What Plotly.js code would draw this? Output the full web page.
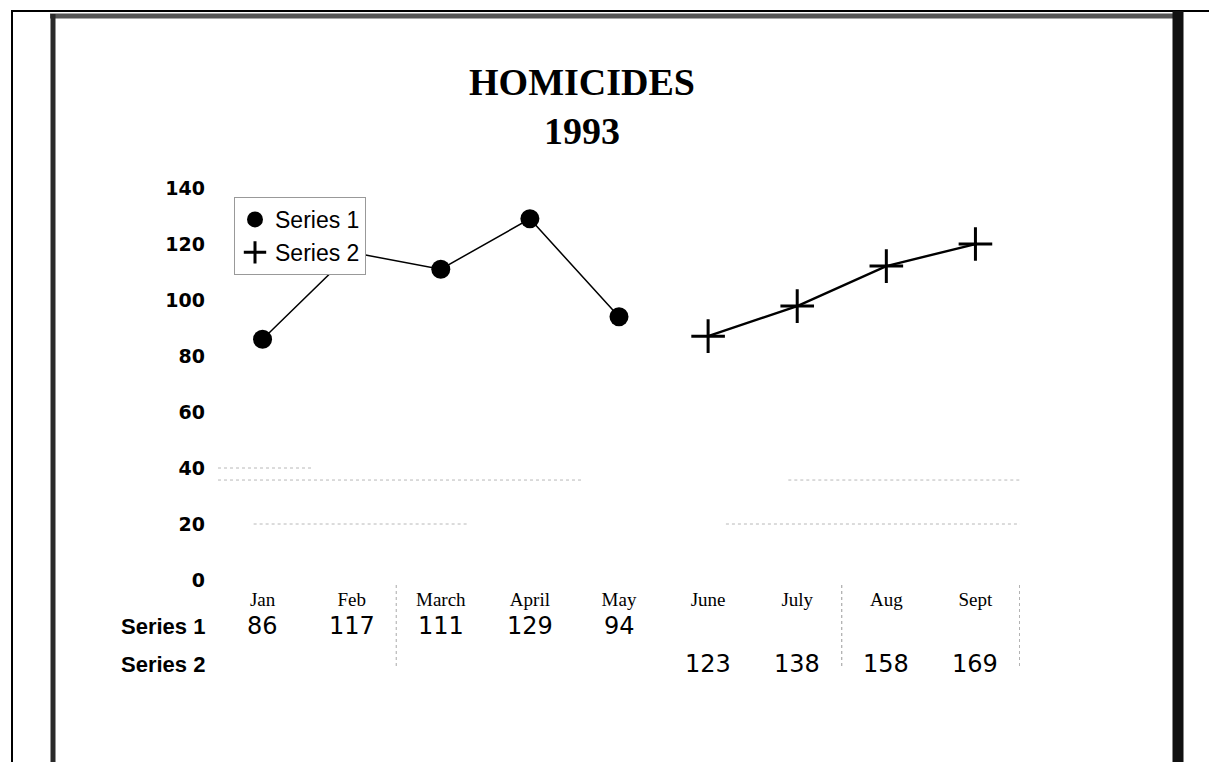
<!DOCTYPE html>
<html>
<head>
<meta charset="utf-8">
<script src="https://cdn.plot.ly/plotly-3.0.1.min.js"></script>
<style>
html,body{margin:0;padding:0;background:#fff;}
#chart{width:1209px;height:762px;}
</style>
</head>
<body>
<div id="chart"></div>
<script>
// ---- data ----
const months = ["Jan", "Feb", "March", "April", "May", "June", "July", "Aug", "Sept"];
const series1Months = ["Jan", "Feb", "March", "April", "May"];
const series1Values = [86, 117, 111, 129, 94];
const series2Months = ["June", "July", "Aug", "Sept"];
const series2Values = [123, 138, 158, 169];
const seriesNames = ["Series 1", "Series 2"];
const yTicks = [0, 20, 40, 60, 80, 100, 120, 140];

// ---- layout geometry ----
const W = 1209, H = 762;
const L = 218, R = 1020, T = 188, B = 580;
const px = x => (x - L) / (R - L);
const py = y => (B - y) / (B - T);

const black = "#000";
const sans = "Liberation Sans, Arial, sans-serif";
const wide = "DejaVu Sans, Verdana, sans-serif";
const serif = "Liberation Serif, Times New Roman, serif";

const crossMarker = {symbol: "cross-thin", size: 24, color: black, line: {color: black, width: 3}};
const dotMarker = {symbol: "circle", size: 19, color: black};

const traces = [
  {
    x: series1Months, y: series1Values, type: "scatter", mode: "lines+markers",
    line: {color: black, width: 1.5}, marker: dotMarker,
    showlegend: false, hoverinfo: "x+y"
  },
  {
    x: series2Months, y: series2Values, type: "scatter", mode: "lines+markers", yaxis: "y2",
    line: {color: black, width: 2.4}, marker: crossMarker,
    showlegend: false, hoverinfo: "x+y"
  },
  {x: [null], y: [null], type: "scatter", mode: "markers", name: seriesNames[0], marker: dotMarker},
  {x: [null], y: [null], type: "scatter", mode: "markers", name: seriesNames[1], marker: crossMarker}
];

const annotations = [];
// data table rows
[[series1Months, series1Values, 626], [series2Months, series2Values, 664]].forEach((row, i) => {
  annotations.push({
    xref: "paper", yref: "paper", x: px(207), y: py(row[2]), xanchor: "right", yanchor: "middle",
    text: "<b>" + seriesNames[i] + "</b>", showarrow: false,
    font: {family: sans, size: 22, color: black}
  });
  row[0].forEach((m, j) => {
    annotations.push({
      xref: "x", yref: "paper", x: m, y: py(row[2]), xanchor: "center", yanchor: "middle",
      text: String(row[1][j]), showarrow: false,
      font: {family: wide, size: 24, color: black}
    });
  });
});

const shapes = [];
// faint dotted grid fragments
const faint = {color: "#b8b8b8", width: 1, dash: "dot"};
shapes.push({type: "line", xref: "x", yref: "y", x0: -0.5, x1: 0.55, y0: 40, y1: 40, line: faint});
shapes.push({type: "line", xref: "x", yref: "y", x0: -0.5, x1: 3.6, y0: 35.7, y1: 35.7, line: faint});
shapes.push({type: "line", xref: "x", yref: "y", x0: 5.9, x1: 8.5, y0: 35.7, y1: 35.7, line: faint});
shapes.push({type: "line", xref: "x", yref: "y", x0: -0.1, x1: 2.3, y0: 20, y1: 20, line: faint});
shapes.push({type: "line", xref: "x", yref: "y", x0: 5.2, x1: 8.5, y0: 20, y1: 20, line: faint});
// table separators
[[1.5, "#aaa"], [6.5, "#999"], [8.5, "#666"]].forEach(s => {
  shapes.push({type: "line", xref: "x", yref: "paper", x0: s[0], x1: s[0], y0: py(585), y1: py(668),
    line: {color: s[1], width: 1, dash: "dot"}});
});
// frame
shapes.push({type: "line", xref: "paper", yref: "paper", x0: px(11), x1: px(1209), y0: py(11), y1: py(11), line: {color: black, width: 2}});
shapes.push({type: "line", xref: "paper", yref: "paper", x0: px(12), x1: px(12), y0: py(10), y1: py(762), line: {color: black, width: 2}});
shapes.push({type: "line", xref: "paper", yref: "paper", x0: px(50), x1: px(1174), y0: py(16), y1: py(16), line: {color: "#555", width: 5}});
shapes.push({type: "line", xref: "paper", yref: "paper", x0: px(53), x1: px(53), y0: py(14), y1: py(762), line: {color: "#2a2a2a", width: 5}});
shapes.push({type: "line", xref: "paper", yref: "paper", x0: px(1178), x1: px(1178), y0: py(11), y1: py(762), line: {color: "#111", width: 11}});

const layout = {
  width: W, height: H,
  margin: {l: L, r: W - R, t: T, b: H - B, pad: 0},
  paper_bgcolor: "#fff", plot_bgcolor: "#fff",
  title: {
    text: "<b>HOMICIDES</b><br><b>1993</b>",
    x: 582 / W, xref: "container", xanchor: "center",
    y: 1 - 95 / H, yref: "container", yanchor: "top",
    font: {family: serif, size: 38, color: black}
  },
  xaxis: {
    type: "category", categoryorder: "array", categoryarray: months,
    range: [-0.5, 8.5], showgrid: false, zeroline: false, showline: false, ticks: "",
    tickfont: {family: serif, size: 19, color: black}, ticklabelstandoff: 6,
    fixedrange: true
  },
  yaxis: {
    range: [0, 140], tickvals: yTicks, ticktext: yTicks.map(String),
    showgrid: false, zeroline: false, showline: false, ticks: "",
    tickfont: {family: wide, size: 19, color: black, weight: "bold"},
    ticklabelstandoff: 12, fixedrange: true
  },
  yaxis2: {
    overlaying: "y", side: "right", range: [1.2, 197], visible: false, fixedrange: true
  },
  showlegend: true,
  legend: {
    x: px(234), y: py(197), xanchor: "left", yanchor: "top",
    bgcolor: "#fff", bordercolor: "#999", borderwidth: 1,
    font: {family: sans, size: 23, color: black},
    tracegroupgap: 0, itemwidth: 30
  },
  annotations: annotations,
  shapes: shapes
};

Plotly.newPlot("chart", traces, layout, {displayModeBar: false, staticPlot: true});
</script>
</body>
</html>
